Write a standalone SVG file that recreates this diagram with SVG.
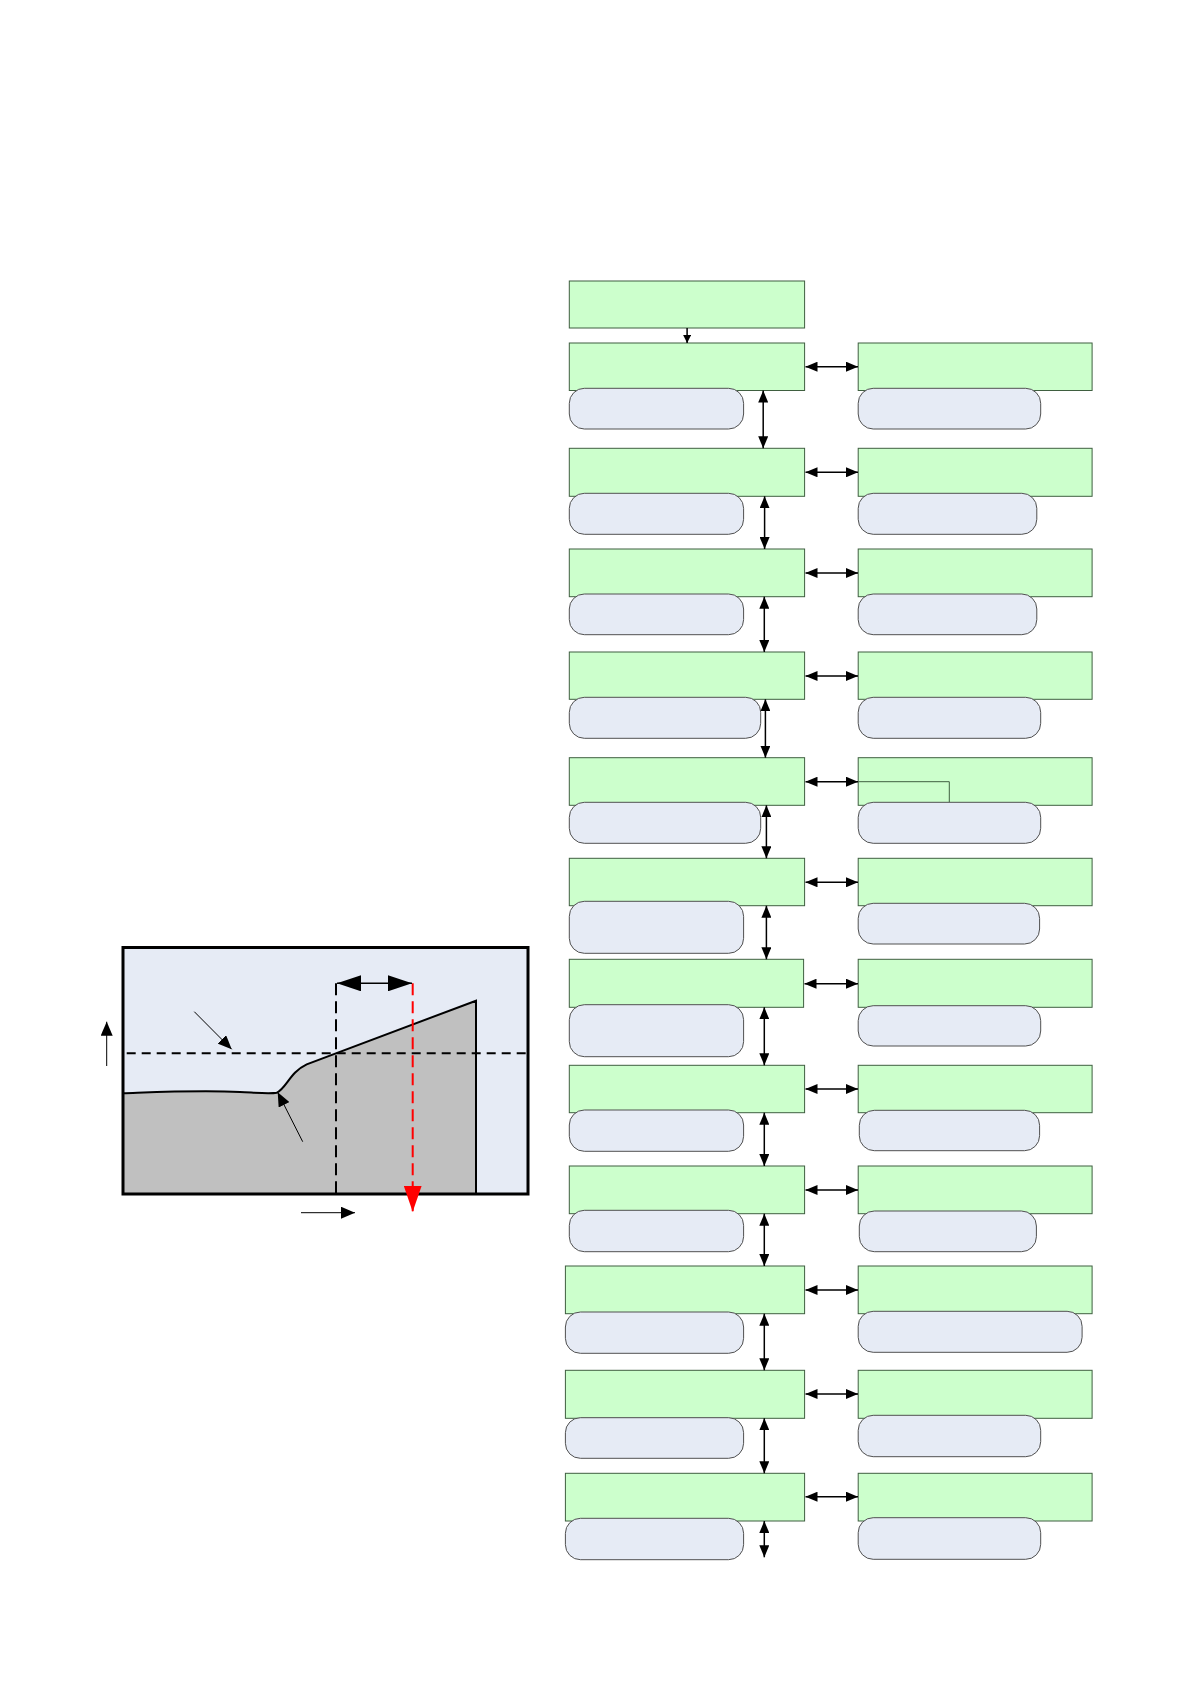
<svg xmlns="http://www.w3.org/2000/svg" width="1191" height="1684" viewBox="0 0 1191 1684">
<style>
.box{fill:#CCFFCC;stroke:#3f5f40;stroke-width:1}
.pill{fill:#E6EBF5;stroke:#505050;stroke-width:1}
.con{fill:none;stroke:#000;stroke-width:1.5}
.thin{fill:none;stroke:#000;stroke-width:1}
</style>
<defs>
<marker id="ah" markerUnits="userSpaceOnUse" markerWidth="12" markerHeight="10" refX="12" refY="5" orient="auto-start-reverse"><path d="M0,0 L12,5 L0,10 z" fill="#000"/></marker>
<marker id="ahs" markerUnits="userSpaceOnUse" markerWidth="8" markerHeight="8" refX="8" refY="4" orient="auto"><path d="M0,0 L8,4 L0,8 z" fill="#000"/></marker>
<marker id="ahb" markerUnits="userSpaceOnUse" markerWidth="24" markerHeight="16" refX="24" refY="8" orient="auto-start-reverse"><path d="M0,0 L24,8 L0,16 z" fill="#000"/></marker>
<marker id="ahr" markerUnits="userSpaceOnUse" markerWidth="26" markerHeight="18" refX="26" refY="9" orient="auto"><path d="M0,0 L26,9 L0,18 z" fill="#FF0000"/></marker>
<marker id="aht" markerUnits="userSpaceOnUse" markerWidth="14" markerHeight="12" refX="14" refY="6" orient="auto"><path d="M0,0 L14,6 L0,12 z" fill="#000"/></marker>
</defs>
<rect width="1191" height="1684" fill="#fff"/>

<!-- Left chart -->
<g id="chart">
<rect x="123" y="947.5" width="405" height="246.5" fill="#E6EBF5"/>
<path d="M123,1093.3 C160,1092 200,1090 240,1092 C260,1093 270,1094 276.7,1092.7 C286,1089 290,1072 306.7,1064.3 L476,1000.7 L476,1194 L123,1194 Z" fill="#C0C0C0"/>
<path d="M123,1093.3 C160,1092 200,1090 240,1092 C260,1093 270,1094 276.7,1092.7 C286,1089 290,1072 306.7,1064.3 L476,1000.7 L476,1194" fill="none" stroke="#000" stroke-width="2"/>
<rect x="123" y="947.5" width="405" height="246.5" fill="none" stroke="#000" stroke-width="3"/>
<line x1="126.7" y1="1053.3" x2="528" y2="1053.3" stroke="#000" stroke-width="2" stroke-dasharray="9,6"/>
<line x1="336" y1="983.3" x2="336" y2="1194" stroke="#000" stroke-width="2" stroke-dasharray="12,6"/>
<line x1="412.7" y1="983.3" x2="412.7" y2="1211.7" stroke="#FF0000" stroke-width="2" stroke-dasharray="12,6" marker-end="url(#ahr)"/>
<line x1="337" y1="983.3" x2="412" y2="983.3" stroke="#000" stroke-width="1.5" marker-start="url(#ahb)" marker-end="url(#ahb)"/>
<line x1="194.3" y1="1011.7" x2="231.7" y2="1049.3" class="thin" marker-end="url(#aht)"/>
<line x1="302.7" y1="1141.7" x2="277.7" y2="1092.3" class="thin" marker-end="url(#aht)"/>
<line x1="106.7" y1="1066" x2="106.7" y2="1021.7" class="thin" marker-end="url(#aht)"/>
<line x1="301" y1="1212.7" x2="355" y2="1212.7" class="thin" marker-end="url(#aht)"/>
</g>

<!-- Flowchart nodes -->
<g id="n0"><rect class="box" x="569.3" y="281" width="235.3" height="47"/></g>

<g id="r1"><rect class="box" x="569.3" y="343" width="235.3" height="47.5"/><rect class="box" x="858.2" y="343" width="233.9" height="47.5"/><rect class="pill" x="569.3" y="388.3" width="174.3" height="40.7" rx="15"/><rect class="pill" x="858.2" y="388.3" width="182.5" height="40.7" rx="15"/></g>
<g id="r2"><rect class="box" x="569.3" y="448.3" width="235.3" height="48"/><rect class="box" x="858.2" y="448.3" width="233.9" height="48"/><rect class="pill" x="569.3" y="493.3" width="174.3" height="41" rx="15"/><rect class="pill" x="858.2" y="493.3" width="178.6" height="41" rx="15"/></g>
<g id="r3"><rect class="box" x="569.3" y="549" width="235.3" height="47.7"/><rect class="box" x="858.2" y="549" width="233.9" height="47.7"/><rect class="pill" x="569.3" y="594" width="174.3" height="40.7" rx="15"/><rect class="pill" x="858.2" y="594" width="178.6" height="40.7" rx="15"/></g>
<g id="r4"><rect class="box" x="569.3" y="652" width="235.3" height="47.3"/><rect class="box" x="858.2" y="652" width="233.9" height="47.3"/><rect class="pill" x="569.3" y="697.3" width="191.4" height="41" rx="15"/><rect class="pill" x="858.2" y="697.3" width="182.5" height="41" rx="15"/></g>
<g id="r5"><rect class="box" x="569.3" y="757.7" width="235.3" height="47.6"/><rect class="box" x="858.2" y="757.7" width="233.9" height="47.6"/><polyline points="858.2,781.7 949.3,781.7 949.3,802.3" fill="none" stroke="#3f5f40" stroke-width="1"/><rect class="pill" x="569.3" y="802.3" width="191.4" height="41" rx="15"/><rect class="pill" x="858.2" y="802.3" width="182.5" height="41" rx="15"/></g>
<g id="r6"><rect class="box" x="569.3" y="858.3" width="235.3" height="47.4"/><rect class="box" x="858.2" y="858.3" width="233.9" height="47.4"/><rect class="pill" x="569.3" y="901.3" width="174.3" height="52" rx="15"/><rect class="pill" x="858.2" y="903.3" width="181.4" height="40.7" rx="15"/></g>
<g id="r7"><rect class="box" x="569.3" y="959.3" width="234.3" height="48"/><rect class="box" x="858.2" y="959.3" width="233.9" height="48"/><rect class="pill" x="569.3" y="1004.7" width="174.3" height="52" rx="15"/><rect class="pill" x="858.2" y="1005.7" width="182.5" height="40.3" rx="15"/></g>
<g id="r8"><rect class="box" x="569.3" y="1065.3" width="235.3" height="47.4"/><rect class="box" x="858.2" y="1065.3" width="233.9" height="47.4"/><rect class="pill" x="569.3" y="1110" width="174.3" height="41.3" rx="15"/><rect class="pill" x="859.3" y="1110.3" width="180.3" height="40.4" rx="15"/></g>
<g id="r9"><rect class="box" x="569.3" y="1166" width="235.3" height="47.7"/><rect class="box" x="858.2" y="1166" width="233.9" height="47.7"/><rect class="pill" x="569.3" y="1210.3" width="174.3" height="41.4" rx="15"/><rect class="pill" x="859.3" y="1211" width="177.1" height="40.7" rx="15"/></g>
<g id="r10"><rect class="box" x="565.4" y="1266" width="239.2" height="47.7"/><rect class="box" x="858.2" y="1266" width="233.9" height="47.7"/><rect class="pill" x="565.4" y="1312" width="178.2" height="41.3" rx="15"/><rect class="pill" x="858.2" y="1311.3" width="223.9" height="41" rx="15"/></g>
<g id="r11"><rect class="box" x="565.4" y="1370.3" width="239.2" height="48"/><rect class="box" x="858.2" y="1370.3" width="233.9" height="48"/><rect class="pill" x="565.4" y="1417.7" width="178.2" height="40.6" rx="15"/><rect class="pill" x="858.2" y="1415.3" width="182.5" height="41.4" rx="15"/></g>
<g id="r12"><rect class="box" x="565.4" y="1473.3" width="239.2" height="47.7"/><rect class="box" x="858.2" y="1473.3" width="233.9" height="47.7"/><rect class="pill" x="565.4" y="1518.3" width="178.2" height="41.4" rx="15"/><rect class="pill" x="858.2" y="1517.7" width="182.5" height="41.6" rx="15"/></g>

<!-- Connectors -->
<g id="connectors">
<line class="con" x1="687.1" y1="328" x2="687.1" y2="343" marker-end="url(#ahs)"/>
<line class="con" x1="805.5" y1="366.7" x2="858" y2="366.7" marker-start="url(#ah)" marker-end="url(#ah)"/>
<line class="con" x1="805.5" y1="472.3" x2="858" y2="472.3" marker-start="url(#ah)" marker-end="url(#ah)"/>
<line class="con" x1="805.5" y1="573" x2="858" y2="573" marker-start="url(#ah)" marker-end="url(#ah)"/>
<line class="con" x1="805.5" y1="676" x2="858" y2="676" marker-start="url(#ah)" marker-end="url(#ah)"/>
<line class="con" x1="805.5" y1="781.7" x2="858" y2="781.7" marker-start="url(#ah)" marker-end="url(#ah)"/>
<line class="con" x1="805.5" y1="882.3" x2="858" y2="882.3" marker-start="url(#ah)" marker-end="url(#ah)"/>
<line class="con" x1="804.5" y1="983.7" x2="858" y2="983.7" marker-start="url(#ah)" marker-end="url(#ah)"/>
<line class="con" x1="805.5" y1="1089" x2="858" y2="1089" marker-start="url(#ah)" marker-end="url(#ah)"/>
<line class="con" x1="805.5" y1="1190" x2="858" y2="1190" marker-start="url(#ah)" marker-end="url(#ah)"/>
<line class="con" x1="805.5" y1="1290" x2="858" y2="1290" marker-start="url(#ah)" marker-end="url(#ah)"/>
<line class="con" x1="805.5" y1="1394" x2="858" y2="1394" marker-start="url(#ah)" marker-end="url(#ah)"/>
<line class="con" x1="805.5" y1="1496.7" x2="858" y2="1496.7" marker-start="url(#ah)" marker-end="url(#ah)"/>
<line class="con" x1="763.2" y1="390.5" x2="763.2" y2="448.3" marker-start="url(#ah)" marker-end="url(#ah)"/>
<line class="con" x1="764.6" y1="496.3" x2="764.6" y2="549" marker-start="url(#ah)" marker-end="url(#ah)"/>
<line class="con" x1="764.3" y1="596.7" x2="764.3" y2="652" marker-start="url(#ah)" marker-end="url(#ah)"/>
<line class="con" x1="765.4" y1="699.3" x2="765.4" y2="757.7" marker-start="url(#ah)" marker-end="url(#ah)"/>
<line class="con" x1="766.4" y1="805.3" x2="766.4" y2="858.3" marker-start="url(#ah)" marker-end="url(#ah)"/>
<line class="con" x1="766.4" y1="905.7" x2="766.4" y2="959.3" marker-start="url(#ah)" marker-end="url(#ah)"/>
<line class="con" x1="764.3" y1="1007.3" x2="764.3" y2="1065.3" marker-start="url(#ah)" marker-end="url(#ah)"/>
<line class="con" x1="764.3" y1="1112.7" x2="764.3" y2="1166" marker-start="url(#ah)" marker-end="url(#ah)"/>
<line class="con" x1="764.3" y1="1213.7" x2="764.3" y2="1266" marker-start="url(#ah)" marker-end="url(#ah)"/>
<line class="con" x1="764.3" y1="1313.7" x2="764.3" y2="1370.3" marker-start="url(#ah)" marker-end="url(#ah)"/>
<line class="con" x1="764.3" y1="1418.3" x2="764.3" y2="1473.3" marker-start="url(#ah)" marker-end="url(#ah)"/>
<line class="con" x1="764.3" y1="1521" x2="764.3" y2="1557.3" marker-start="url(#ah)" marker-end="url(#ah)"/>
</g>
</svg>
